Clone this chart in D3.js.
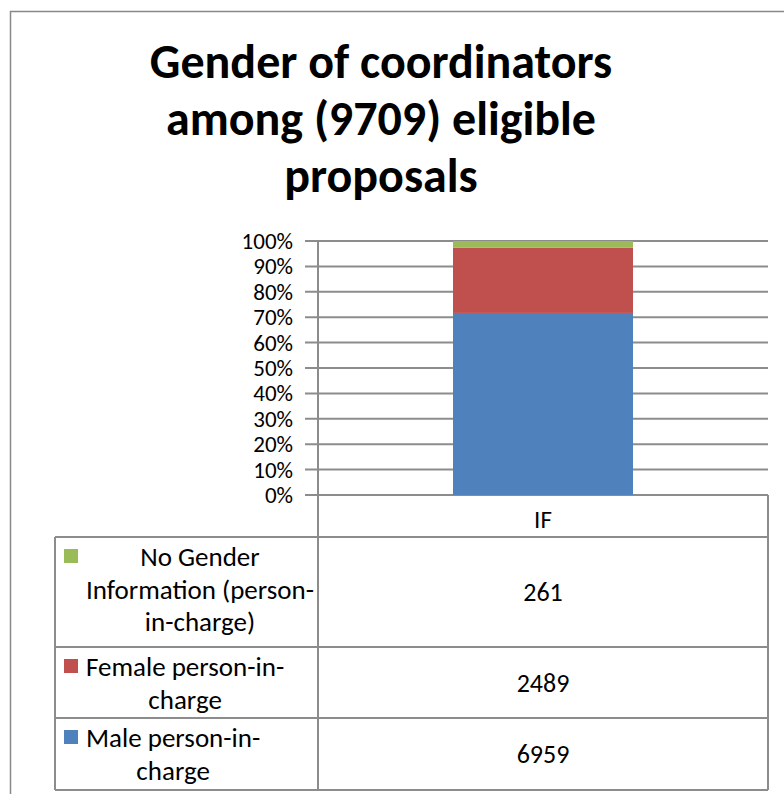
<!DOCTYPE html>
<meta charset="utf-8">
<style>
  body { margin: 0; background: #fff; }
  text { font-family: Carlito, Calibri, Lato, "Open Sans", sans-serif; fill: #000; }
</style>
<body>
<div id="chart"></div>
<script src="https://cdn.jsdelivr.net/npm/d3@7"></script>
<script>

// data
var categories = ["IF"];
var seriesNames = ["Male person-in-charge", "Female person-in-charge", "No Gender Information (person-in-charge)"];
var seriesKeys = ["male", "female", "nogender"];
var male = [6959];
var female = [2489];
var nogender = [261];
var tickLabels = ["0%", "10%", "20%", "30%", "40%", "50%", "60%", "70%", "80%", "90%", "100%"];
var titleLines = ["Gender of coordinators", "among (9709) eligible", "proposals"];

// legend text as it wraps in the data table (top row first)
var legendLines = [
  ["No Gender", "Information (person-", "in-charge)"],
  ["Female person-in-", "charge"],
  ["Male person-in-", "charge"]
];

var colors = { male: "#4f81bd", female: "#c0504d", nogender: "#9bbb59" };

var width = 784,
    height = 794;

var plotLeft = 318, plotRight = 768, plotTop = 241, plotBottom = 495;

var svg = d3.select("#chart").append("svg")
    .attr("width", width)
    .attr("height", height);

// outer chart border
svg.append("rect")
    .attr("x", 10.5).attr("y", 11.5)
    .attr("width", 800).attr("height", 800)
    .attr("fill", "none")
    .attr("stroke", "#898989")
    .attr("stroke-width", 1.5);

// title
svg.append("g").selectAll("text")
    .data(titleLines)
  .enter().append("text")
    .attr("x", 381)
    .attr("y", function(d, i) { return 78 + i * 57; })
    .attr("text-anchor", "middle")
    .style("font-size", "48px")
    .style("font-weight", "bold")
    .text(function(d) { return d; });

var rows = categories.map(function(c, i) {
  return { cat: c, male: male[i], female: female[i], nogender: nogender[i] };
});

var stack = d3.stack().keys(seriesKeys).offset(d3.stackOffsetExpand);
var layers = stack(rows);

var x = d3.scaleBand()
    .domain(categories)
    .range([plotLeft, plotRight])
    .paddingInner(0)
    .paddingOuter(0.75);

var y = d3.scaleLinear()
    .domain([0, 1])
    .range([plotBottom, plotTop]);

var gridColor = "#8c8c8c";

// gridlines
svg.append("g")
    .selectAll("line")
    .data(y.ticks(10))
  .enter().append("line")
    .attr("x1", plotLeft - 13)
    .attr("x2", plotRight)
    .attr("y1", function(d) { return y(d); })
    .attr("y2", function(d) { return y(d); })
    .attr("stroke", gridColor)
    .attr("stroke-width", 2);

// vertical axis line
svg.append("line")
    .attr("x1", plotLeft).attr("x2", plotLeft)
    .attr("y1", plotTop).attr("y2", plotBottom)
    .attr("stroke", gridColor)
    .attr("stroke-width", 2);

// y tick labels
svg.append("g")
    .selectAll("text")
    .data(y.ticks(10))
  .enter().append("text")
    .attr("x", 293)
    .attr("y", function(d) { return y(d) + 8; })
    .attr("text-anchor", "end")
    .style("font-size", "23px")
    .text(function(d, i) { return tickLabels[i]; });

// bars
svg.append("g")
    .selectAll("g")
    .data(layers)
  .enter().append("g")
    .attr("fill", function(d) { return colors[d.key]; })
  .selectAll("rect")
    .data(function(d) { return d; })
  .enter().append("rect")
    .attr("x", function(d) { return x(d.data.cat); })
    .attr("y", function(d) { return y(d[1]); })
    .attr("width", x.bandwidth())
    .attr("height", function(d) { return y(d[0]) - y(d[1]); });

// data table
var tableLeft = 55;
var rowEdges = [plotBottom, 537, 647, 718, 790];
var table = svg.append("g");

// horizontal table lines
rowEdges.slice(1).forEach(function(yy) {
  table.append("line")
      .attr("x1", tableLeft).attr("x2", plotRight)
      .attr("y1", yy).attr("y2", yy)
      .attr("stroke", gridColor).attr("stroke-width", 2);
});
// vertical table lines
table.append("line")
    .attr("x1", plotLeft).attr("x2", plotLeft)
    .attr("y1", plotBottom).attr("y2", rowEdges[4])
    .attr("stroke", gridColor).attr("stroke-width", 2);
table.append("line")
    .attr("x1", plotRight).attr("x2", plotRight)
    .attr("y1", plotBottom).attr("y2", rowEdges[4])
    .attr("stroke", gridColor).attr("stroke-width", 2);
table.append("line")
    .attr("x1", tableLeft).attr("x2", tableLeft)
    .attr("y1", rowEdges[1]).attr("y2", rowEdges[4])
    .attr("stroke", gridColor).attr("stroke-width", 2);

// category header
table.append("text")
    .attr("x", x(categories[0]) + x.bandwidth() / 2)
    .attr("y", 528)
    .attr("text-anchor", "middle")
    .style("font-size", "25px")
    .text(categories[0]);

// table rows top to bottom: nogender, female, male
var tableKeys = ["nogender", "female", "male"];
var tableVals = { male: male, female: female, nogender: nogender };

tableKeys.forEach(function(k, r) {
  var y0 = rowEdges[r + 1], y1 = rowEdges[r + 2];
  var lines = legendLines[r];

  table.append("rect")
      .attr("x", 64).attr("y", y0 + 12)
      .attr("width", 14).attr("height", 14)
      .attr("fill", colors[k]);

  var g = table.append("g");
  var texts = g.selectAll("text")
      .data(lines)
    .enter().append("text")
      .attr("y", function(d, i) { return y0 + 29 + i * 32.5; })
      .attr("text-anchor", "middle")
      .style("font-size", "27px")
      .text(function(d) { return d; });
  var maxW = 0;
  texts.each(function() { maxW = Math.max(maxW, this.getComputedTextLength()); });
  texts.attr("x", 86 + maxW / 2);

  table.append("text")
      .attr("x", x(categories[0]) + x.bandwidth() / 2)
      .attr("y", (y0 + y1) / 2 + 9)
      .attr("text-anchor", "middle")
      .style("font-size", "26px")
      .text(tableVals[k][0]);
});

</script>
</body>
